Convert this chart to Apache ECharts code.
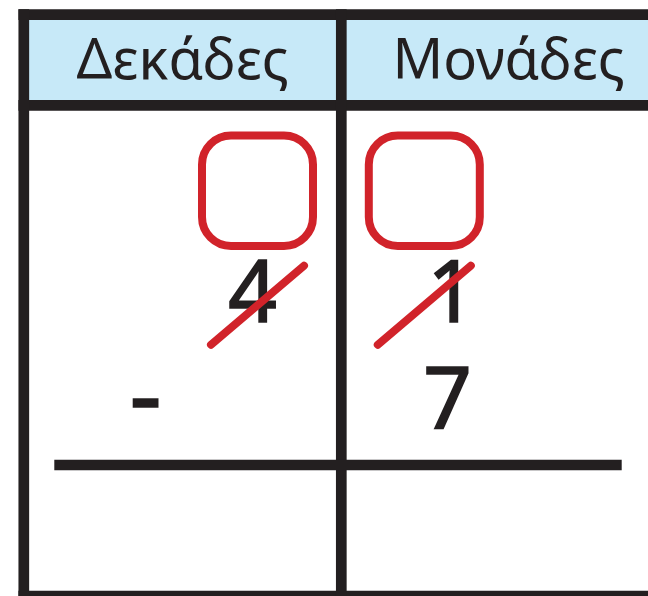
<!DOCTYPE html>
<html>
<head>
<meta charset="utf-8">
<script src="https://cdn.jsdelivr.net/npm/echarts@6/dist/echarts.min.js"></script>
<style>html,body{margin:0;padding:0;background:#fff}#c{width:648px;height:596px}</style>
</head>
<body>
<div id="c"></div>
<script>
// ---- data (values only) ----
const columns = ['Δεκάδες', 'Μονάδες'];   // place-value headers
const borrowBoxes = [true, true];         // empty boxes to fill in
const minuend = ['4', '1'];               // top number 41
const crossedOut = [true, true];          // digits struck through
const subtrahend = ['', '7'];             // number subtracted: 7
const operator = '-';

// ---- layout (pixel units on hidden value axes) ----
const LAY = {
  colEdges: [23.8, 341.3, 676],
  top: 14.7, headerBottom: 105.3, bottom: 596,
  lineW: 10.7,
  ruleY: 465, ruleX: [54.3, 621.7],
  slotX: [257.5, 424.3],
  box: { top: 135.5, bottom: 246, half: 55.5, r: 29, w: 8 },
  strike: { cy: 305.2, dx: 46.5, dy: 39.5, w: 8 },
  headerY: 63,
  row1Y: 298, row2Y: 405,
  digitX: [252.5, 451.5],
  subX: [252.5, 447.5],
  opX: 145.5, opY: 402
};
const DARK = '#231f20', RED = '#d1232a', BLUE = '#c7e9f8';
const FONT = '"Noto Sans", "DejaVu Sans", sans-serif';

function digitText(str, p, size) {
  return { type: 'text', style: { text: str, x: p[0], y: p[1], align: 'center', verticalAlign: 'middle', font: '400 ' + size + 'px ' + FONT, fill: DARK, stroke: DARK, lineWidth: 1.6 } };
}

function colItem(params, api) {
  const i = api.value(0);
  const x0 = LAY.colEdges[i], x1 = LAY.colEdges[i + 1];
  const c = (x, y) => api.coord([x, y]);
  const children = [];
  const a = c(x0, LAY.top), b = c(x1, LAY.headerBottom);
  children.push({ type: 'rect', shape: { x: a[0], y: a[1], width: b[0] - a[0], height: b[1] - a[1] }, style: { fill: BLUE } });
  const hc = c((x0 + x1) / 2, LAY.headerY);
  children.push({ type: 'text', style: { text: columns[i], x: hc[0], y: hc[1], align: 'center', verticalAlign: 'middle', font: '400 56px ' + FONT, fill: DARK } });
  if (borrowBoxes[i]) {
    const p = c(LAY.slotX[i] - LAY.box.half, LAY.box.top), q = c(LAY.slotX[i] + LAY.box.half, LAY.box.bottom);
    children.push({ type: 'rect', shape: { x: p[0], y: p[1], width: q[0] - p[0], height: q[1] - p[1], r: LAY.box.r }, style: { fill: 'none', stroke: RED, lineWidth: LAY.box.w } });
  }
  if (minuend[i]) children.push(digitText(minuend[i], c(LAY.digitX[i], LAY.row1Y), 85));
  if (crossedOut[i]) {
    const s1 = c(LAY.slotX[i] - LAY.strike.dx, LAY.strike.cy + LAY.strike.dy);
    const s2 = c(LAY.slotX[i] + LAY.strike.dx, LAY.strike.cy - LAY.strike.dy);
    children.push({ type: 'line', shape: { x1: s1[0], y1: s1[1], x2: s2[0], y2: s2[1] }, style: { stroke: RED, lineWidth: LAY.strike.w, lineCap: 'round' } });
  }
  if (subtrahend[i]) children.push(digitText(subtrahend[i], c(LAY.subX[i], LAY.row2Y), 85));
  if (i === 0) children.push(digitText(operator, c(LAY.opX, LAY.opY), 100));
  return { type: 'group', children };
}

function gridItem(params, api) {
  const c = (x, y) => api.coord([x, y]);
  const ln = (x1, y1, x2, y2) => {
    const p = c(x1, y1), q = c(x2, y2);
    return { type: 'line', shape: { x1: p[0], y1: p[1], x2: q[0], y2: q[1] }, style: { stroke: DARK, lineWidth: LAY.lineW, lineCap: 'butt' } };
  };
  const h = LAY.lineW / 2;
  const left = LAY.colEdges[0] - h;
  return { type: 'group', children: [
    ln(left, LAY.top, 660, LAY.top),
    ln(left, LAY.headerBottom, 660, LAY.headerBottom),
    ln(left, LAY.bottom, 660, LAY.bottom),
    ln(LAY.colEdges[0], LAY.top - h, LAY.colEdges[0], LAY.bottom + h),
    ln(LAY.colEdges[1], LAY.top - h, LAY.colEdges[1], LAY.bottom + h),
    ln(LAY.ruleX[0], LAY.ruleY, LAY.ruleX[1], LAY.ruleY)
  ] };
}

const chart = echarts.init(document.getElementById('c'), null, { renderer: 'canvas' });
chart.setOption({
  animation: false,
  backgroundColor: '#ffffff',
  grid: { left: 0, right: 0, top: 0, bottom: 0 },
  xAxis: { type: 'value', min: 0, max: 648, show: false },
  yAxis: { type: 'value', min: 0, max: 596, inverse: true, show: false },
  series: [
    { type: 'custom', renderItem: colItem, data: columns.map((_, i) => [i]), z: 1, silent: true },
    { type: 'custom', renderItem: gridItem, data: [[0]], z: 2, silent: true, clip: false }
  ]
});
</script>
</body>
</html>
